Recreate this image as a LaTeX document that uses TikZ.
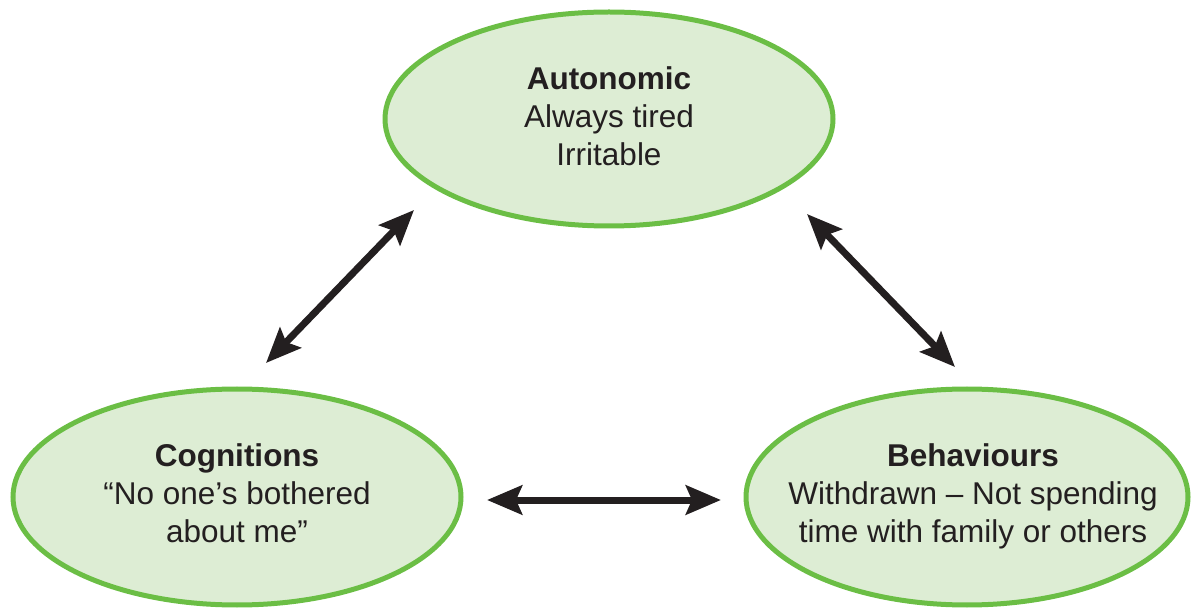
\documentclass[tikz,border=0pt]{standalone}
\usepackage{fontspec}
\setmainfont{Liberation Sans}
\usetikzlibrary{shapes.geometric,arrows.meta}
\definecolor{leaf}{HTML}{6BBE45}
\definecolor{leaffill}{HTML}{DDEDD4}
\definecolor{ink}{HTML}{231F20}
\tikzset{
  bubble/.style={ellipse, draw=leaf, fill=leaffill, line width=5pt, inner sep=0pt},
  label/.style={align=center, text=ink, inner sep=0pt, font=\fontsize{31.5}{38}\selectfont},
  link/.style={draw=ink, line width=7pt,
    {Stealth[length=35pt,width=29pt,inset=6pt]}-{Stealth[length=35pt,width=29pt,inset=6pt]}}
}
\begin{document}
\begin{tikzpicture}[x=1pt,y=-1pt]
\useasboundingbox (0,0) rectangle (1192,609);
% the three ellipses
\node[bubble, minimum width=448pt, minimum height=214pt] (auto) at (609,119) {};
\node[bubble, minimum width=448pt, minimum height=216pt] (cog) at (237,497) {};
\node[bubble, minimum width=442pt, minimum height=216pt] (beh) at (967,497) {};
% their texts
\node[label] (autotxt) at (609,116) {\textbf{Autonomic}\\Always tired\\Irritable};
\node[label] (cogtxt) at (237,493) {\textbf{Cognitions}\\“No one’s bothered\\about me”};
\node[label] (behtxt) at (973,496) {\textbf{Behaviours}\\Withdrawn – Not spending\\time with family or others};
% arrow end points
\coordinate (a1) at (414,210);
\coordinate (a2) at (266,363);
\coordinate (b1) at (807,214);
\coordinate (b2) at (955,367);
\coordinate (c1) at (487,500);
\coordinate (c2) at (721,500);
% two-way links
\draw[link] (a2) -- (a1);
\draw[link] (b1) -- (b2);
\draw[link] (c1) -- (c2);
\end{tikzpicture}
\end{document}
